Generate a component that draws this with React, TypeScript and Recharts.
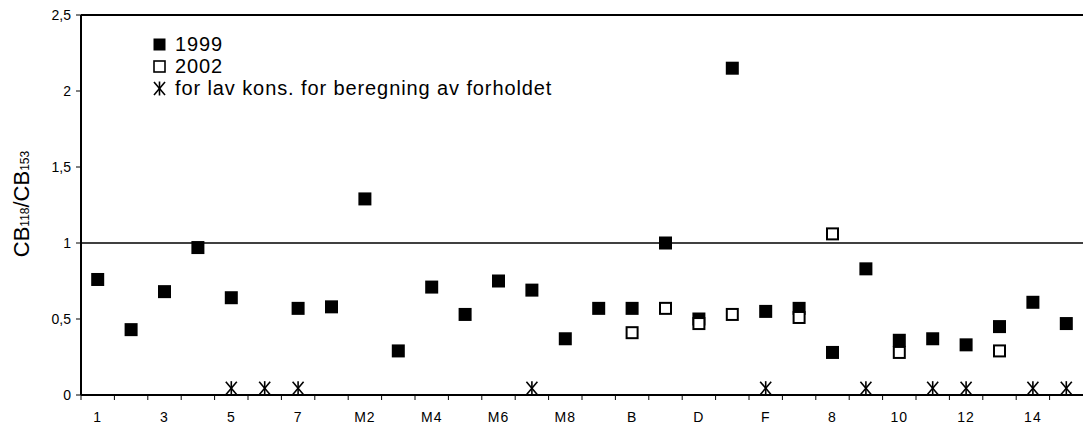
import React from 'react'
import { ScatterChart, Scatter, XAxis, YAxis, ReferenceLine } from 'recharts'

const categories = [
  '1', '2', '3', '4', '5', '6', '7',
  'M1', 'M2', 'M3', 'M4', 'M5', 'M6', 'M7', 'M8',
  'A', 'B', 'C', 'D', 'E', 'F', 'G',
  '8', '9', '10', '11', '12', '13', '14', '15',
]

// CB118/CB153 1999
const values1999 = [
  0.76, 0.43, 0.68, 0.97, 0.64, null, 0.57,
  0.58, 1.29, 0.29, 0.71, 0.53, 0.75, 0.69, 0.37,
  0.57, 0.57, 1.0, 0.5, 2.15, 0.55, 0.57,
  0.28, 0.83, 0.36, 0.37, 0.33, 0.45, 0.61, 0.47,
]

// CB118/CB153 2002
const values2002 = [
  null, null, null, null, null, null, null,
  null, null, null, null, null, null, null, null,
  null, 0.41, 0.57, 0.47, 0.53, null, 0.51,
  1.06, null, 0.28, null, null, 0.29, null, null,
]

// for lav kons. for beregning av forholdet
const lowConc = [
  false, false, false, false, true, true, true,
  false, false, false, false, false, false, true, false,
  false, false, false, false, false, true, false,
  false, true, false, true, true, false, true, true,
]
const LOW_MARK = 0.045

const yTicks = [0, 0.5, 1, 1.5, 2, 2.5]

const W = 1083
const H = 428
const M = { top: 15, right: 0, bottom: 0, left: 0 }
const Y_AXIS_W = 81
const X_AXIS_H = 33
const PLOT_W = W - M.left - M.right - Y_AXIS_W
const HALF = PLOT_W / categories.length / 2

const FONT = '"Liberation Sans", Arial, sans-serif'

const data1999 = categories
  .map((c, i) => ({ x: i + 0.5, y: values1999[i], name: c }))
  .filter((d) => d.y != null)
const data2002 = categories
  .map((c, i) => ({ x: i + 0.5, y: values2002[i], name: c }))
  .filter((d) => d.y != null)
const dataLow = categories
  .map((c, i) => ({ x: i + 0.5, y: lowConc[i] ? LOW_MARK : null, name: c }))
  .filter((d) => d.y != null)

const boundaries = categories.map((_, i) => i)

const FilledSquare = (props: any) => {
  const { cx, cy } = props
  return <rect x={cx - 6.5} y={cy - 6.5} width={13} height={13} fill="#000" />
}

const OpenSquare = (props: any) => {
  const { cx, cy } = props
  return <rect x={cx - 5.5} y={cy - 5.5} width={11} height={11} fill="#fff" stroke="#000" strokeWidth={2} />
}

const Star = (props: any) => {
  const { cx, cy } = props
  return (
    <g stroke="#000" strokeWidth={1.6}>
      <line x1={cx - 5.5} y1={cy - 6.5} x2={cx + 5.5} y2={cy + 6.5} />
      <line x1={cx + 5.5} y1={cy - 6.5} x2={cx - 5.5} y2={cy + 6.5} />
      <line x1={cx} y1={cy - 7} x2={cx} y2={cy + 7} />
    </g>
  )
}

const XTick = (props: any) => {
  const { x, y, payload } = props
  const i = payload.value
  if (i % 2 !== 0 || i >= categories.length) return null
  return (
    <text x={x + HALF} y={y + 20} textAnchor="middle" fontSize={14} letterSpacing={1} fontFamily={FONT} fill="#000">
      {categories[i]}
    </text>
  )
}

const YLabel = () => {
  const cx = 28.5
  const cy = 204
  return (
    <text
      x={cx}
      y={cy}
      transform={`rotate(-90, ${cx}, ${cy})`}
      textAnchor="middle"
      fontFamily={FONT}
      fontSize={22}
      fill="#000"
    >
      <tspan>CB</tspan>
      <tspan fontSize={12}>118</tspan>
      <tspan>/CB</tspan>
      <tspan fontSize={12}>153</tspan>
    </text>
  )
}

const LegendBox = () => {
  const row = { display: 'flex', alignItems: 'center', height: 22 }
  const label = { marginLeft: 9, fontSize: 20, letterSpacing: 0.9, fontFamily: FONT, color: '#000', lineHeight: '22px' }
  return (
    <div style={{ position: 'absolute', left: 153, top: 33 }}>
      <div style={row}>
        <svg width={13} height={13}><rect x={0.5} y={0.5} width={12} height={12} fill="#000" /></svg>
        <span style={label}>1999</span>
      </div>
      <div style={row}>
        <svg width={13} height={13}><rect x={1} y={1} width={11} height={11} fill="#fff" stroke="#000" strokeWidth={1.6} /></svg>
        <span style={label}>2002</span>
      </div>
      <div style={row}>
        <svg width={13} height={15}><Star cx={6.5} cy={7.5} /></svg>
        <span style={label}>for lav kons. for beregning av forholdet</span>
      </div>
    </div>
  )
}

export default function App() {
  return (
    <div style={{ position: 'absolute', left: 0, top: 0, width: W, height: H, background: '#fff' }}>
      <ScatterChart width={W} height={H} margin={M}>
        <XAxis
          type="number"
          dataKey="x"
          domain={[0, categories.length]}
          ticks={boundaries}
          interval={0}
          height={X_AXIS_H}
          tick={<XTick />}
          tickSize={5}
          tickLine={{ stroke: '#000', strokeWidth: 1 }}
          axisLine={{ stroke: '#000', strokeWidth: 2 }}
        />
        <YAxis
          type="number"
          dataKey="y"
          domain={[0, 2.5]}
          ticks={yTicks}
          interval={0}
          width={Y_AXIS_W}
          tickSize={5}
          tickMargin={5}
          tickLine={{ stroke: '#000', strokeWidth: 1 }}
          axisLine={{ stroke: '#000', strokeWidth: 2 }}
          tick={{ fontSize: 14, fontFamily: FONT, fill: '#000' }}
          tickFormatter={(v) => String(v).replace('.', ',')}
          label={<YLabel />}
        />
        <ReferenceLine y={2.5} stroke="#000" strokeWidth={2} />
        <ReferenceLine y={1} stroke="#000" strokeWidth={1.5} />
        <Scatter name="1999" data={data1999} shape={<FilledSquare />} isAnimationActive={false} />
        <Scatter name="2002" data={data2002} shape={<OpenSquare />} isAnimationActive={false} />
        <Scatter name="for lav kons." data={dataLow} shape={<Star />} isAnimationActive={false} />
      </ScatterChart>
      <LegendBox />
    </div>
  )
}
